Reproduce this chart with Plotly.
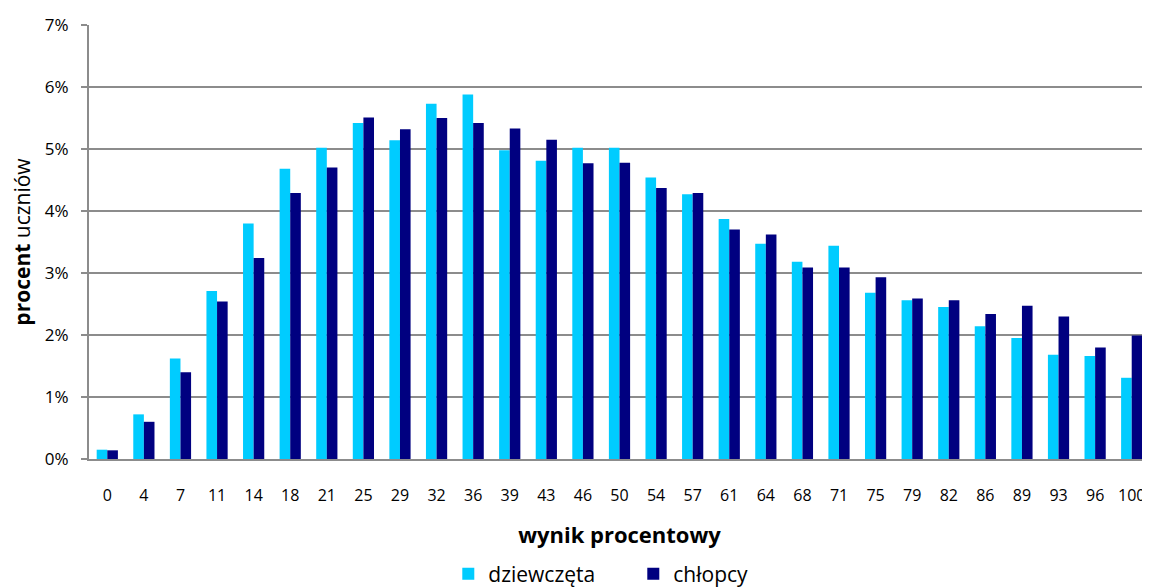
import plotly.graph_objects as go

wyniki = ['0', '4', '7', '11', '14', '18', '21', '25', '29', '32', '36', '39', '43', '46', '50',
          '54', '57', '61', '64', '68', '71', '75', '79', '82', '86', '89', '93', '96', '100']

dziewczeta = [0.15, 0.72, 1.62, 2.71, 3.80, 4.68, 5.02, 5.42, 5.14, 5.73, 5.88, 4.98, 4.81, 5.02, 5.02,
              4.54, 4.27, 3.87, 3.47, 3.18, 3.44, 2.68, 2.56, 2.45, 2.14, 1.95, 1.68, 1.66, 1.31]

chlopcy = [0.14, 0.60, 1.40, 2.54, 3.24, 4.29, 4.70, 5.51, 5.32, 5.50, 5.42, 5.33, 5.15, 4.77, 4.78,
           4.37, 4.29, 3.70, 3.62, 3.09, 3.09, 2.93, 2.59, 2.56, 2.34, 2.47, 2.30, 1.80, 1.99]

font_name = 'Open Sans, sans-serif'
grid_color = '#8c8c8c'

fig = go.Figure()
fig.add_trace(go.Bar(
    x = wyniki,
    y = dziewczeta,
    name = 'dziewczęta',
    marker = dict(color = '#00ccff', line = dict(width = 0))
))
fig.add_trace(go.Bar(
    x = wyniki,
    y = chlopcy,
    name = 'chłopcy',
    marker = dict(color = '#000080', line = dict(width = 0))
))

# page body has an 8px margin, so the figure is 8px smaller each way
fig.update_layout(
    width = 1142,
    height = 580,
    margin = dict(l = 81, r = 0, t = 17, b = 129, autoexpand = False),
    plot_bgcolor = 'white',
    paper_bgcolor = 'white',
    barmode = 'group',
    bargap = 0.42,
    bargroupgap = 0,
    font = dict(family = font_name, color = 'black', size = 16),
    legend = dict(
        orientation = 'h',
        x = 0.513,
        xanchor = 'center',
        y = -0.265,
        yanchor = 'middle',
        font = dict(size = 21),
        entrywidth = 140,
        traceorder = 'normal'
    ),
    xaxis = dict(
        type = 'category',
        automargin = False,
        title = dict(text = '<b>wynik procentowy</b>', font = dict(size = 22), standoff = 22),
        showline = True,
        linecolor = grid_color,
        linewidth = 2,
        ticks = '',
        ticklabelstandoff = 21,
        tickfont = dict(size = 16),
        showgrid = False
    ),
    yaxis = dict(
        range = [0, 7],
        dtick = 1,
        ticksuffix = '%',
        automargin = False,
        title = dict(text = '<b>procent</b> uczniów', font = dict(size = 21), standoff = 11),
        showline = True,
        linecolor = grid_color,
        linewidth = 2,
        ticks = 'outside',
        ticklen = 6,
        tickcolor = grid_color,
        tickwidth = 2,
        ticklabelstandoff = 9,
        gridcolor = grid_color,
        gridwidth = 2,
        zeroline = False,
        tickfont = dict(size = 17)
    )
)

fig.write_html("out.html")
